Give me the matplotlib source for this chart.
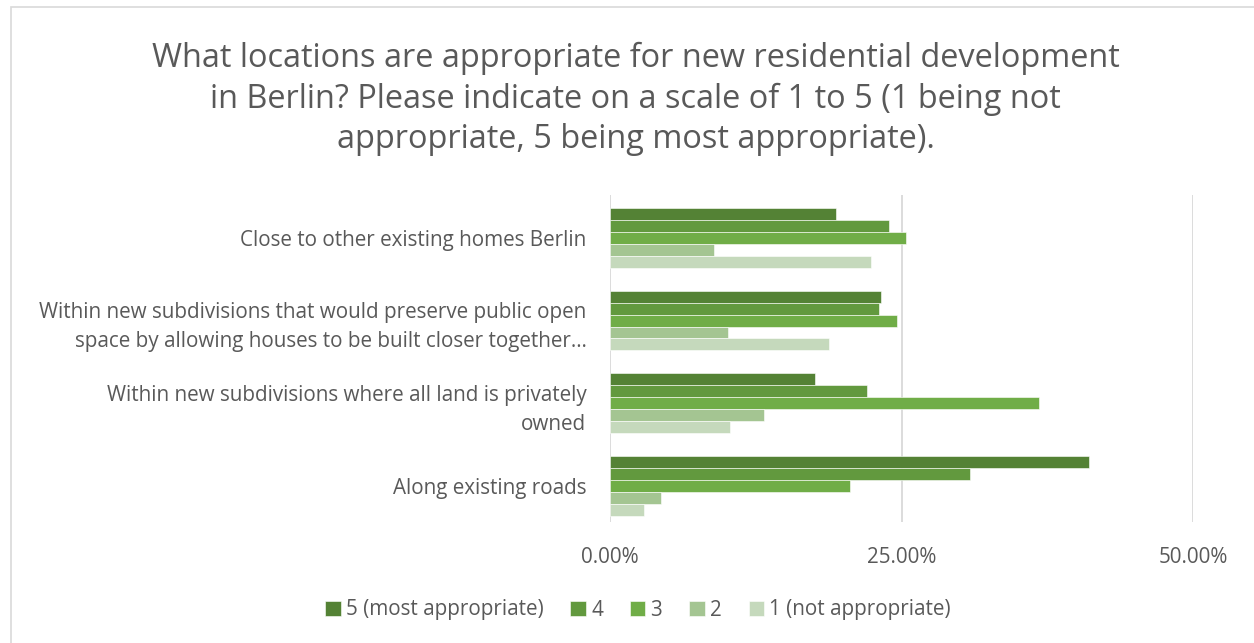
import matplotlib
matplotlib.use("Agg")
import matplotlib.pyplot as plt
from matplotlib.patches import Rectangle
from matplotlib.ticker import FuncFormatter
import numpy as np

plt.rcParams['font.family'] = ['Open Sans', 'DejaVu Sans']

categories = [
    "Close to other existing homes Berlin",
    "Within new subdivisions that would preserve public open\nspace by allowing houses to be built closer together…",
    "Within new subdivisions where all land is privately\nowned",
    "Along existing roads",
]
series_names = ["5 (most appropriate)", "4", "3", "2", "1 (not appropriate)"]
score_5 = [19.4, 23.2, 17.6, 41.1]
score_4 = [23.9, 23.1, 22.0, 30.9]
score_3 = [25.4, 24.6, 36.8, 20.6]
score_2 = [8.9, 10.1, 13.2, 4.4]
score_1 = [22.4, 18.8, 10.3, 2.9]
series_values = [score_5, score_4, score_3, score_2, score_1]
colors = ["#548235", "#62993e", "#70ad47", "#a4c592", "#c5d9bc"]

title = ("What locations are appropriate for new residential development\n"
         "in Berlin? Please indicate on a scale of 1 to 5 (1 being not\n"
         "appropriate, 5 being most appropriate).")

text_color = "#595959"
label_size = 14.9

fig = plt.figure(figsize=(12.54, 6.43), dpi=100)
fig.patch.set_facecolor("white")

# thin outer chart frame
fig.add_artist(Rectangle((11 / 1254, -0.1), 1.2, (643 - 7) / 643 + 0.1,
                         transform=fig.transFigure, fill=False,
                         edgecolor="#d9d9d9", linewidth=1.2))

ax = fig.add_axes([610 / 1254, (643 - 522) / 643, (1193 - 610) / 1254, (522 - 195) / 643])

n_series = len(series_values)
bar_h = 0.145
y = np.arange(len(categories))
for i, (vals, name, col) in enumerate(zip(series_values, series_names, colors)):
    offs = (i - (n_series - 1) / 2) * bar_h
    ax.barh(y + offs, vals, height=bar_h, color=col, label=name,
            edgecolor="white", linewidth=0.4, zorder=3)

ax.set_xlim(0, 50)
ax.set_ylim(3.44, -0.52)
ax.set_xticks([0, 25, 50])
ax.xaxis.set_major_formatter(FuncFormatter(lambda v, p: f"{v:.2f}%"))
ax.grid(axis="x", color="#d9d9d9", linewidth=1.3, zorder=0)
ax.set_yticks(y)
ax.set_yticklabels(categories, fontsize=label_size, color=text_color, linespacing=1.5)
ax.tick_params(axis="y", length=0, pad=17)
ax.tick_params(axis="x", length=0, pad=18, labelsize=label_size, labelcolor=text_color)
for s in ax.spines.values():
    s.set_visible(False)

fig.text(0.507, (643 - 99) / 643, title, ha="center", va="center",
         fontsize=23.4, color=text_color, linespacing=1.29)

leg = fig.legend(loc="center", bbox_to_anchor=(638 / 1254, (643 - 610) / 643),
                 ncol=5, frameon=False, fontsize=label_size, handlelength=0.75,
                 handleheight=0.75, handletextpad=0.25, columnspacing=1.3)
for t in leg.get_texts():
    t.set_color(text_color)

fig.savefig("out.png", dpi=100, facecolor="white")
